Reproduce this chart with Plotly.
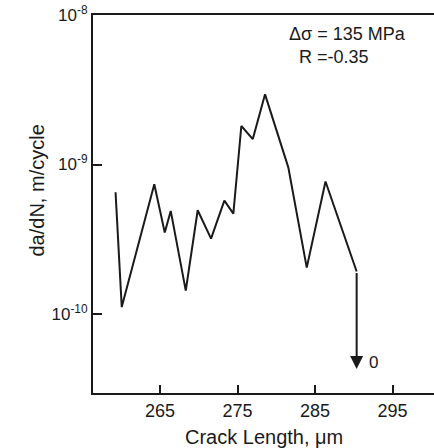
import plotly.graph_objects as go
import math

# Data
crack_length = [259.26, 260.06, 264.26, 265.61, 266.38, 268.32, 269.86, 271.58,
                273.30, 274.46, 275.49, 276.97, 278.55, 281.55, 283.93, 286.35, 290.37]
dadn = [6.52e-10, 1.11e-10, 7.38e-10, 3.50e-10, 4.89e-10, 1.43e-10, 4.94e-10, 3.19e-10,
        5.73e-10, 4.69e-10, 1.81e-9, 1.48e-9, 2.95e-9, 9.57e-10, 2.04e-10, 7.69e-10, 1.92e-10]
arrest_tip_log = -10.37   # arrow tip (da/dN -> 0)
arrest_label = "0"

x_ticks = [265, 275, 285, 295]
y_tickvals = [1e-8, 1e-9, 1e-10]
y_ticktext = ["10<sup>-8</sup>", "10<sup>-9</sup>", "10<sup>-10</sup>"]

FONT = "Liberation Sans, Arial, Helvetica, sans-serif"
INK = "#1a1a1a"

fig = go.Figure()
fig.add_trace(go.Scatter(x=crack_length, y=dadn, mode="lines",
                         line=dict(color=INK, width=2), showlegend=False,
                         hoverinfo="skip"))

fig.add_annotation(x=crack_length[-1], y=arrest_tip_log, xref="x", yref="y",
                   ax=crack_length[-1], ay=math.log10(dadn[-1]), axref="x", ayref="y",
                   text="", showarrow=True, arrowhead=2, arrowsize=1.3,
                   arrowwidth=2, arrowcolor=INK)
fig.add_annotation(x=crack_length[-1], y=arrest_tip_log, xref="x", yref="y",
                   text=arrest_label, showarrow=False, xanchor="left", yanchor="middle",
                   xshift=10, yshift=7, font=dict(family=FONT, size=17, color=INK))

fig.add_annotation(x=0.569, y=0.981, xref="paper", yref="paper",
                   text="Δσ = 135 MPa<br>\u00a0\u00a0R =-0.35", showarrow=False, align="left",
                   xanchor="left", yanchor="top",
                   font=dict(family=FONT, size=18, color=INK))

fig.add_annotation(x=-0.165, y=0.535, xref="paper", yref="paper",
                   text="da/dN, m/cycle", textangle=-90, showarrow=False,
                   xanchor="center", yanchor="middle",
                   font=dict(family=FONT, size=20, color=INK))

fig.add_annotation(x=0.5, y=-0.083, xref="paper", yref="paper",
                   text="Crack Length, μm", showarrow=False,
                   xanchor="center", yanchor="top",
                   font=dict(family=FONT, size=20, color=INK))

fig.update_layout(
    width=434, height=448,
    margin=dict(l=93, r=0, t=15, b=55, autoexpand=False),
    paper_bgcolor="white", plot_bgcolor="white",
    font=dict(family=FONT, color=INK),
    xaxis=dict(range=[256.35, 300.35], tickvals=x_ticks, ticks="inside", ticklen=8,
               tickwidth=1.5, tickcolor=INK, showline=True, linewidth=2, linecolor=INK,
               mirror=True, showgrid=False, zeroline=False, automargin=False,
               tickfont=dict(family=FONT, size=18, color=INK)),
    yaxis=dict(type="log", range=[-10.53, -7.999], tickvals=y_tickvals, ticktext=y_ticktext,
               ticks="inside", ticklen=9, tickwidth=1.5, tickcolor=INK, automargin=False,
               showline=True, linewidth=2, linecolor=INK, showgrid=False, zeroline=False,
               tickfont=dict(family=FONT, size=17, color=INK)),
)

fig.write_html("out.html", config={"displayModeBar": False},
               post_script="document.body.style.margin='0';document.body.style.overflow='hidden';")
